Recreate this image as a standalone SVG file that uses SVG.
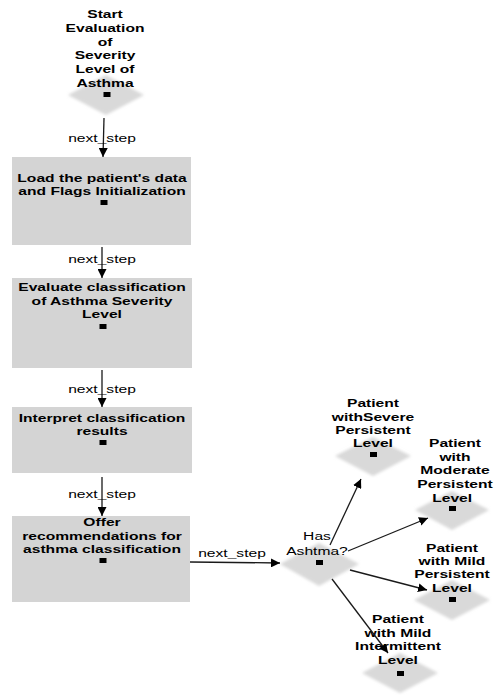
<svg xmlns="http://www.w3.org/2000/svg" width="499" height="698" viewBox="0 0 499 698">
<defs>
<style>
.t{font-family:"Liberation Sans",Arial,sans-serif;font-size:11px;font-weight:bold;fill:#000;text-anchor:middle}
.l{font-family:"Liberation Sans",Arial,sans-serif;font-size:11px;fill:#000;text-anchor:middle}
.box{fill:#d4d4d4}
.dia{fill:#d9d9d9;filter:url(#soft)}
.sq{fill:#000}
.c{stroke:#1a1a1a;stroke-width:1.3;fill:none;marker-end:url(#ah)}
</style>
<filter id="soft" x="-20%" y="-20%" width="140%" height="140%"><feGaussianBlur stdDeviation="1.6"/></filter>
<marker id="ah" viewBox="0 0 10 10" refX="10" refY="5" markerWidth="9" markerHeight="9" markerUnits="userSpaceOnUse" orient="auto"><path d="M0,0 L10,5 L0,10 Z" fill="#000"/></marker>
</defs>
<rect width="499" height="698" fill="#fff"/>

<g id="start">
<polygon class="dia" points="106,75 144,95 106,115 68,95"/>
<g transform="translate(105,0) scale(1.42,1)">
<text class="t" x="0" y="18">Start</text>
<text class="t" x="0" y="32">Evaluation</text>
<text class="t" x="0" y="46">of</text>
<text class="t" x="0" y="59.5">Severity</text>
<text class="t" x="0" y="73">Level of</text>
<text class="t" x="0" y="87">Asthma</text>
</g>
<rect class="sq" x="103.5" y="92" width="7" height="5"/>
</g>

<g id="load">
<rect class="box" x="12" y="157" width="179" height="88"/>
<g transform="translate(102,0) scale(1.42,1)">
<text class="t" x="0" y="182">Load the patient's data</text>
<text class="t" x="0" y="195">and Flags Initialization</text>
</g>
<rect class="sq" x="100.5" y="200" width="7" height="5"/>
</g>

<g id="evaluate">
<rect class="box" x="12" y="278" width="180" height="90"/>
<g transform="translate(102,0) scale(1.42,1)">
<text class="t" x="0" y="291">Evaluate classification</text>
<text class="t" x="0" y="305">of Asthma Severity</text>
<text class="t" x="0" y="318">Level</text>
</g>
<rect class="sq" x="99.5" y="324" width="7" height="5"/>
</g>

<g id="interpret">
<rect class="box" x="12" y="407" width="180" height="66"/>
<g transform="translate(102,0) scale(1.42,1)">
<text class="t" x="0" y="422">Interpret classification</text>
<text class="t" x="0" y="435">results</text>
</g>
<rect class="sq" x="99.5" y="440" width="7" height="5"/>
</g>

<g id="offer">
<rect class="box" x="12" y="516" width="178" height="86"/>
<g transform="translate(102,0) scale(1.42,1)">
<text class="t" x="0" y="526">Offer</text>
<text class="t" x="0" y="540">recommendations for</text>
<text class="t" x="0" y="553">asthma classification</text>
</g>
<rect class="sq" x="99.5" y="558" width="7" height="5"/>
</g>

<g id="has">
<polygon class="dia" points="319,543 359,564 319,586 280,564"/>
<g transform="translate(317,0) scale(1.42,1)">
<text class="l" x="0" y="540">Has</text>
<text class="l" x="0" y="555">Ashtma?</text>
</g>
<rect class="sq" x="316" y="560" width="7" height="5"/>
</g>

<g id="severe">
<polygon class="dia" points="373,437 411,456 373,476 335,456"/>
<g transform="translate(373,0) scale(1.42,1)">
<text class="t" x="0" y="407">Patient</text>
<text class="t" x="0" y="421">withSevere</text>
<text class="t" x="0" y="434">Persistent</text>
<text class="t" x="0" y="447">Level</text>
</g>
<rect class="sq" x="370" y="452" width="7" height="5"/>
</g>

<g id="moderate">
<polygon class="dia" points="452,491 489,510 452,530 415,510"/>
<g transform="translate(455,0) scale(1.42,1)">
<text class="t" x="0" y="447">Patient</text>
<text class="t" x="0" y="461">with</text>
<text class="t" x="0" y="474">Moderate</text>
<text class="t" x="0" y="488">Persistent</text>
<text class="t" x="-2" y="502">Level</text>
</g>
<rect class="sq" x="449" y="506" width="7" height="5"/>
</g>

<g id="mildpersistent">
<polygon class="dia" points="452,580 490,600 452,620 414,600"/>
<g transform="translate(452,0) scale(1.42,1)">
<text class="t" x="0" y="552">Patient</text>
<text class="t" x="0" y="565">with Mild</text>
<text class="t" x="0" y="578">Persistent</text>
<text class="t" x="0" y="592">Level</text>
</g>
<rect class="sq" x="449" y="597" width="7" height="5"/>
</g>

<g id="mildintermittent">
<polygon class="dia" points="400,653 438,673 400,693 362,673"/>
<g transform="translate(398,0) scale(1.42,1)">
<text class="t" x="0" y="623">Patient</text>
<text class="t" x="0" y="637">with Mild</text>
<text class="t" x="0" y="650">Intermittent</text>
<text class="t" x="0" y="664">Level</text>
</g>
<rect class="sq" x="397" y="671" width="7" height="5"/>
</g>

<g id="connectors">
<line class="c" x1="104" y1="118" x2="103" y2="157"/>
<line class="c" x1="102" y1="247" x2="102" y2="278"/>
<line class="c" x1="102" y1="370" x2="102" y2="407"/>
<line class="c" x1="102" y1="477" x2="102" y2="516"/>
<line class="c" x1="190" y1="562" x2="280" y2="563"/>
<line class="c" x1="330" y1="545" x2="361" y2="479"/>
<line class="c" x1="348" y1="551" x2="428" y2="518"/>
<line class="c" x1="350" y1="570" x2="427" y2="590"/>
<line class="c" x1="332" y1="579" x2="388" y2="653"/>
<g transform="translate(102,0) scale(1.42,1)">
<text class="l" x="0" y="142">next_step</text>
<text class="l" x="0" y="263">next_step</text>
<text class="l" x="0" y="393">next_step</text>
<text class="l" x="0" y="498">next_step</text>
</g>
<g transform="translate(232,0) scale(1.42,1)">
<text class="l" x="0" y="557">next_step</text>
</g>
</g>
</svg>
